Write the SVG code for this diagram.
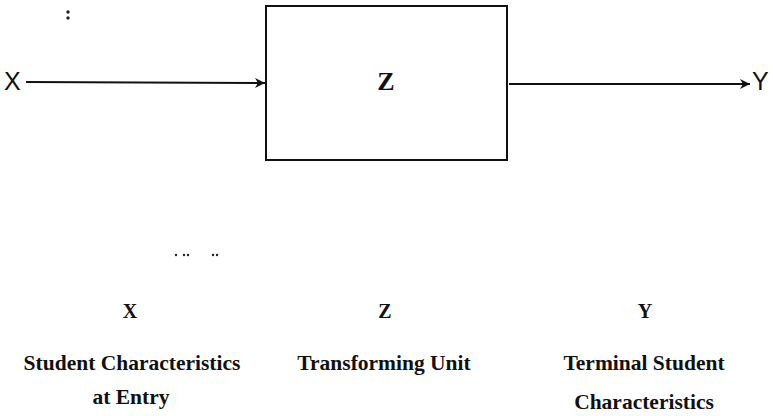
<svg xmlns="http://www.w3.org/2000/svg" width="773" height="416" viewBox="0 0 773 416">
  <style>
    .edge { stroke: #111; stroke-width: 2; fill: none; }
    .box { stroke: #111; stroke-width: 2; fill: #fff; }
    .sym { font-family: "Liberation Sans", Arial, sans-serif; font-size: 25px; fill: #111; }
    .zsym { font-family: "Liberation Serif", "Times New Roman", serif; font-weight: bold; font-size: 26px; fill: #111; }
    .head { font-family: "Liberation Serif", "Times New Roman", serif; font-weight: bold; font-size: 20px; fill: #111; text-anchor: middle; }
    .cap { font-family: "Liberation Serif", "Times New Roman", serif; font-weight: bold; font-size: 21.5px; fill: #111; text-anchor: middle; }
    .speck { fill: #222; }
  </style>
  <defs>
    <marker id="arrow" viewBox="0 0 10 10" refX="10" refY="5" markerWidth="6" markerHeight="5" orient="auto" markerUnits="strokeWidth">
      <path d="M0,0 L10,5 L0,10 L3,5 Z" fill="#111"/>
    </marker>
  </defs>

  <!-- flow connectors -->
  <g id="connectors">
    <line class="edge" x1="26" y1="82" x2="265" y2="83" marker-end="url(#arrow)"/>
    <line class="edge" x1="509" y1="84" x2="750" y2="84" marker-end="url(#arrow)"/>
  </g>

  <!-- input -->
  <g id="node-x">
    <text class="sym" x="4" y="90">X</text>
  </g>

  <!-- transforming unit -->
  <g id="node-z">
    <rect class="box" x="266" y="6" width="241" height="154"/>
    <text class="zsym" x="386" y="90" text-anchor="middle">Z</text>
  </g>

  <!-- output -->
  <g id="node-y">
    <text class="sym" x="752" y="90">Y</text>
  </g>

  <!-- stray print specks -->
  <g id="specks">
    <circle class="speck" cx="68" cy="12" r="1.7"/>
    <circle class="speck" cx="68" cy="18" r="1.7"/>
    <circle class="speck" cx="176" cy="255" r="1.2"/>
    <circle class="speck" cx="184" cy="255" r="1.2"/>
    <circle class="speck" cx="188" cy="255" r="1.2"/>
    <circle class="speck" cx="213" cy="255" r="1.2"/>
    <circle class="speck" cx="217" cy="255" r="1.2"/>
  </g>

  <!-- legend -->
  <g id="legend-x">
    <text class="head" x="130" y="318">X</text>
    <text class="cap" x="132" y="370">Student Characteristics</text>
    <text class="cap" x="131" y="404">at Entry</text>
  </g>
  <g id="legend-z">
    <text class="head" x="385" y="318">Z</text>
    <text class="cap" x="384" y="370">Transforming Unit</text>
  </g>
  <g id="legend-y">
    <text class="head" x="645" y="318">Y</text>
    <text class="cap" x="644" y="370">Terminal Student</text>
    <text class="cap" x="644" y="409">Characteristics</text>
  </g>
</svg>
